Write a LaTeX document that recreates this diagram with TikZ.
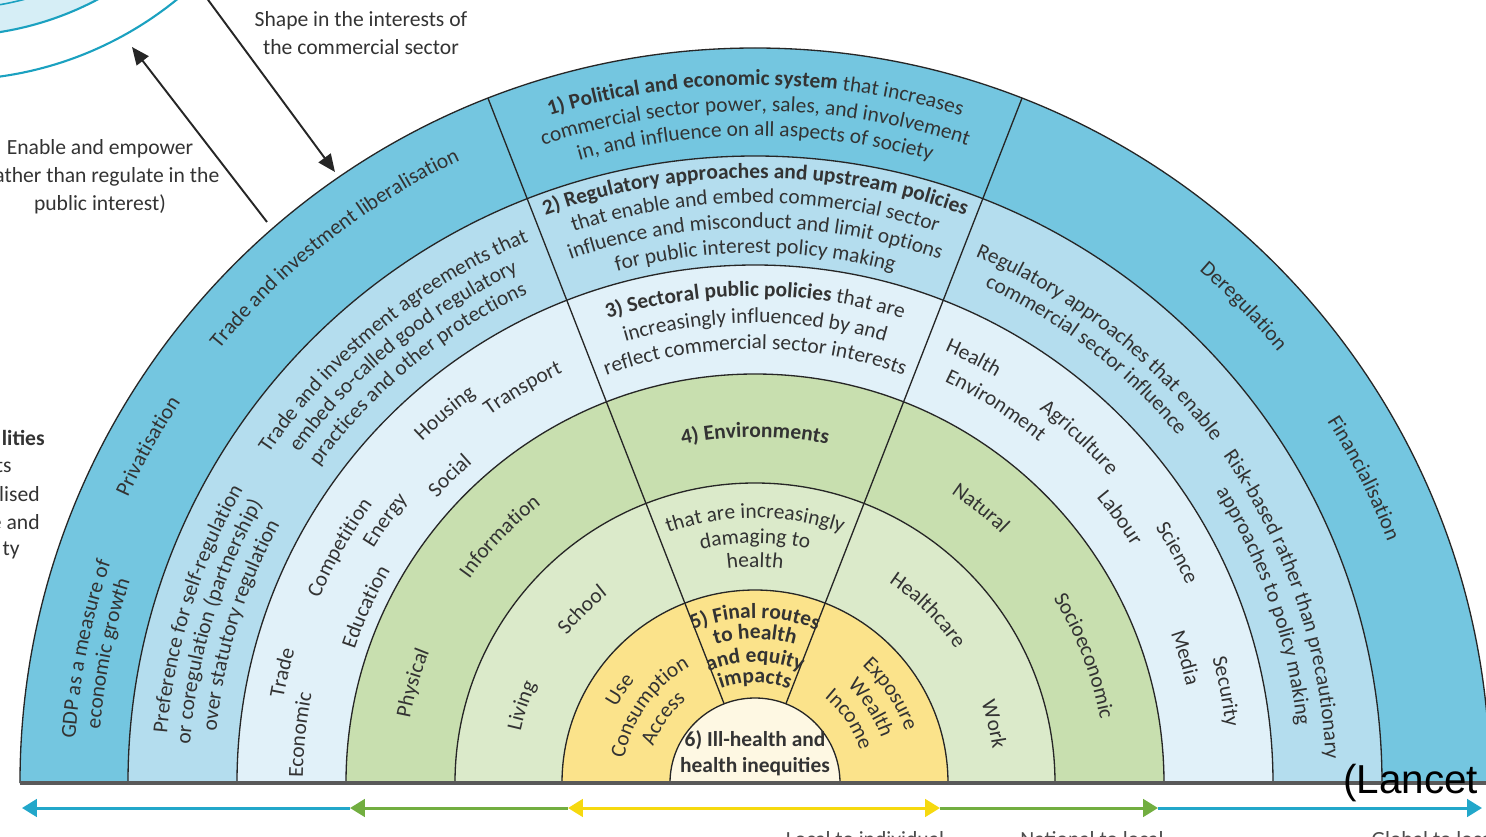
\documentclass[tikz,border=0pt]{standalone}
\usepackage{fontspec}
\setmainfont{Carlito}
\newfontfamily\capfont{Liberation Sans}
\usetikzlibrary{arrows.meta,decorations.text}

\definecolor{ringA}{HTML}{74C6E0}
\definecolor{ringB}{HTML}{B4DDEE}
\definecolor{ringC}{HTML}{E1F1F9}
\definecolor{ringD}{HTML}{C8DFAF}
\definecolor{ringE}{HTML}{DBEACA}
\definecolor{ringF}{HTML}{FBE38B}
\definecolor{ringG}{HTML}{FEF8E3}
\definecolor{inkgray}{HTML}{333333}
\definecolor{edgegray}{HTML}{262626}
\definecolor{axcyan}{HTML}{22A7CA}
\definecolor{axgreen}{HTML}{72AE40}
\definecolor{axyellow}{HTML}{F6D90F}
\definecolor{tealarc}{HTML}{1BA1C0}
\definecolor{paleblue}{HTML}{D6EEF6}

% curved label: baseline radius, centre angle, text
\newcommand{\ringtext}[3]{%
  \path[decorate,decoration={text along path,text align=center,
    text color=inkgray,text={#3}}]
    (#2+45:#1) arc[start angle=#2+45,end angle=#2-45,radius=#1];}

\begin{document}
\fontsize{12.2pt}{15pt}\selectfont
\begin{tikzpicture}[x=0.02cm, y=0.02cm,
    edge/.style={draw=edgegray, line width=0.75pt},
    txt/.style={text=inkgray, font=\fontsize{12.3}{16}\selectfont},
    bigarrow/.style={-{Triangle[length=10pt,width=8.5pt]}, line width=1.1pt, draw=black!85},
    axis/.style={line width=1.7pt, -{Triangle[length=8.5pt,width=10pt]}}
  ]
  \useasboundingbox (-755,-53) rectangle (731,783);
  \clip (-755,-53) rectangle (731,783);

  % corner of the neighbouring circle
  \fill[paleblue] (-805,1063) circle[radius=316];
  \draw[tealarc, line width=0.9pt] (-805,1063) circle[radius=289];
  \draw[tealarc, line width=1.2pt] (-805,1063) circle[radius=316];
  \draw[tealarc, line width=1.2pt] (-805,1063) circle[radius=360];

  % rings
  \foreach \r/\c in {735/ringA,627/ringB,518/ringC,409/ringD,300/ringE,193/ringF,85/ringG}
    \fill[\c] (\r,0) arc[start angle=0,end angle=180,radius=\r] -- cycle;
  \foreach \r in {735,627,518,409,300,193,85}
    \draw[edge] (\r,0) arc[start angle=0,end angle=180,radius=\r];
  \draw[edge] (111.3:85) -- (111.3:735);
  \draw[edge] (68.7:85) -- (68.7:735);
  \draw[line width=1.8pt, draw=black!65] (-735,0) -- (735,0);

  % ring 1
  \ringtext{689}{128.2}{Trade and investment liberalisation}
  \ringtext{689}{151}{Privatisation}
  \ringtext{681}{168.7}{GDP as a measure of}
  \ringtext{657}{168.7}{economic growth}
  \ringtext{698}{90}{|\bfseries|1) Political and economic system |\mdseries|that increases}
  \ringtext{672}{90}{commercial sector power, sales, and involvement}
  \ringtext{647}{90}{in, and influence on all aspects of society}
  \ringtext{678}{44.3}{Deregulation}
  \ringtext{677}{26.6}{Financialisation}

  % ring 2
  \ringtext{590}{162.7}{Preference for self-regulation}
  \ringtext{566}{163.3}{or coregulation (partnership)}
  \ringtext{541}{163}{over statutory regulation}
  \ringtext{587}{129.3}{Trade and investment agreements that}
  \ringtext{563}{129.5}{embed so-called good regulatory}
  \ringtext{539}{129.5}{practices and other protections}
  \ringtext{605}{90}{|\bfseries|2) Regulatory approaches and upstream policies}
  \ringtext{580}{90}{that enable and embed commercial sector}
  \ringtext{555}{90}{influence and misconduct and limit options}
  \ringtext{530}{90}{for public interest policy making}
  \ringtext{571}{52}{Regulatory approaches that enable}
  \ringtext{547}{52.3}{commercial sector influence}
  \ringtext{571}{18.7}{Risk-based rather than precautionary}
  \ringtext{545}{19.2}{approaches to policy making}

  % ring 3
  \ringtext{487}{90}{|\bfseries|3) Sectoral public policies |\mdseries|that are}
  \ringtext{460}{90}{increasingly influenced by and}
  \ringtext{434}{90}{reflect commercial sector interests}
  \ringtext{479}{166.9}{Trade}
  \ringtext{452}{174}{Economic}
  \ringtext{473}{150.5}{Competition}
  \ringtext{422}{155.7}{Education}
  \ringtext{448}{144.6}{Energy}
  \ringtext{427}{134.8}{Social}
  \ringtext{477}{130}{Housing}
  \ringtext{453}{120.5}{Transport}
  \ringtext{472}{62.8}{Health}
  \ringtext{444}{57.5}{Environment}
  \ringtext{469}{46.8}{Agriculture}
  \ringtext{445}{36}{Labour}
  \ringtext{475}{28.6}{Science}
  \ringtext{442}{16.2}{Media}
  \ringtext{474}{11}{Security}

  % ring 4
  \ringtext{346}{90}{|\bfseries|4) Environments}
  \ringtext{351}{163.7}{Physical}
  \ringtext{351}{136}{Information}
  \ringtext{350}{50.6}{Natural}
  \ringtext{351}{21.1}{Socioeconomic}
  \ringtext{265}{90}{that are increasingly}
  \ringtext{240}{90}{damaging to}
  \ringtext{216}{90}{health}
  \ringtext{240}{161.7}{Living}
  \ringtext{239}{135}{School}
  \ringtext{241}{45}{Healthcare}
  \ringtext{240}{13.8}{Work}

  % ring 5
  \ringtext{165}{90}{|\bfseries|5) Final routes}
  \ringtext{144}{90}{|\bfseries|to health}
  \ringtext{121}{90}{|\bfseries|and equity}
  \ringtext{100}{90}{|\bfseries|impacts}
  \ringtext{158}{145.4}{Use}
  \ringtext{133}{144.4}{Consumption}
  \ringtext{108}{145}{Access}
  \ringtext{159}{33.3}{Exposure}
  \ringtext{134}{33}{Wealth}
  \ringtext{110}{34}{Income}

  \node[txt, font=\bfseries\fontsize{12.2}{14.8}\selectfont, align=center] (core) at (0,30)
    {6) Ill-health and\\health inequities};

  % texts outside the rings
  \node[txt, align=center] (shapeLbl) at (-394,750) {Shape in the interests of\\the commercial sector};
  \node[txt, align=center] (enableLbl) at (-655,606)
    {Enable and empower\\(rather than regulate in the\\public interest)};
  \node[txt, anchor=east, inner sep=0pt, font=\bfseries\fontsize{12.3}{15}\selectfont] (frag1) at (-710,345) {lities};
  \node[txt, anchor=east, inner sep=0pt] (frag2) at (-743,317) {ts};
  \node[txt, anchor=east, inner sep=0pt] (frag3) at (-715,289) {lised};
  \node[txt, anchor=east, inner sep=0pt] (frag4) at (-715,261) {e and};
  \node[txt, anchor=east, inner sep=0pt] (frag5) at (-735,233) {ty};

  \coordinate (shapeA) at (-552,790);
  \coordinate (shapeB) at (-420,611);
  \coordinate (enableA) at (-488,561);
  \coordinate (enableB) at (-623,736);
  \draw[bigarrow] (shapeA) -- (shapeB);
  \draw[bigarrow] (enableA) -- (enableB);

  % scale arrows
  \coordinate (axC) at (0,-25);
  \coordinate (axY1) at (-187,-25);
  \coordinate (axG1) at (-405,-25);
  \coordinate (axB1) at (-733,-25);
  \coordinate (axY2) at (185,-25);
  \coordinate (axG2) at (403,-25);
  \coordinate (axB2) at (727,-25);
  \draw[axis, axcyan] (axG1) -- (axB1);
  \draw[axis, axcyan] (axG2) -- (axB2);
  \draw[axis, axgreen] (axY1) -- (axG1);
  \draw[axis, axgreen] (axY2) -- (axG2);
  \draw[axis, axyellow] (axC) -- (axY1);
  \draw[axis, axyellow] (axC) -- (axY2);

  \node[txt, anchor=north, text=black!70] (localLbl) at (110,-41) {Local to individual};
  \node[txt, anchor=north, text=black!70] (nationalLbl) at (337,-41) {National to local};
  \node[txt, anchor=north west, text=black!70] (globalLbl) at (609,-41) {Global to local};

  \node[anchor=base west, inner sep=0pt, font=\capfont\fontsize{23}{27}\selectfont] (cite) at (588,-10) {(Lancet};
\end{tikzpicture}
\end{document}
